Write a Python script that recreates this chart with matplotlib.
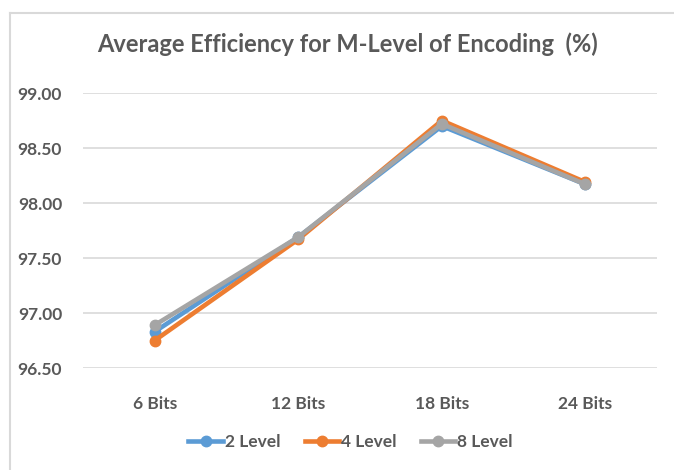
import matplotlib.pyplot as plt
from matplotlib.lines import Line2D

categories = ['6 Bits', '12 Bits', '18 Bits', '24 Bits']
level2 = [96.83, 97.69, 98.70, 98.17]
level4 = [96.75, 97.67, 98.75, 98.19]
level8 = [96.89, 97.69, 98.72, 98.17]
yticks = [96.50, 97.00, 97.50, 98.00, 98.50, 99.00]

plt.rcParams['font.family'] = ['Lato', 'DejaVu Sans']
txt = '#595959'

fig = plt.figure(figsize=(6.74, 4.70), dpi=100)
ax = fig.add_axes([0.123, 0.217, 0.852, 0.585])

x = range(len(categories))
ax.plot(x, level2, '-o', color='#5B9BD5', lw=3.3, ms=7.5, label='2 Level')
ax.plot(x, level4, '-o', color='#ED7D31', lw=3.3, ms=7.5, label='4 Level')
ax.plot(x, level8, '-o', color='#A5A5A5', lw=3.3, ms=7.5, label='8 Level')

ax.set_xlim(-0.5, 3.5)
ax.set_ylim(96.5, 99.0)
ax.set_yticks(yticks)
ax.set_yticklabels(['%.2f' % v for v in yticks])
ax.set_xticks(list(x))
ax.set_xticklabels(categories)
ax.grid(axis='y', color='#D9D9D9', lw=1.2)
ax.set_axisbelow(True)
for s in ax.spines.values():
    s.set_visible(False)
ax.tick_params(length=0, colors=txt, labelsize=12.5)
ax.tick_params(axis='x', pad=20)
ax.tick_params(axis='y', pad=15)
for lab in ax.get_xticklabels() + ax.get_yticklabels():
    lab.set_fontweight('bold')

fig.text(0.515, 0.905, 'Average Efficiency for M-Level of Encoding  (%)',
         ha='center', va='center', fontsize=17, fontweight='bold', color=txt)

leg = fig.legend(loc='center', bbox_to_anchor=(0.52, 0.06), ncol=3, frameon=False,
                 handlelength=2.0, handletextpad=0.1, columnspacing=1.4,
                 prop={'size': 12.5, 'weight': 'bold'})
for t in leg.get_texts():
    t.set_color(txt)

# chart border (left and top edges visible)
fig.add_artist(Line2D([0.015, 0.015], [0.0, 0.972], color='#D9D9D9', lw=1.5))
fig.add_artist(Line2D([0.015, 1.0], [0.972, 0.972], color='#D9D9D9', lw=1.5))

fig.savefig('out.png', dpi=100)
